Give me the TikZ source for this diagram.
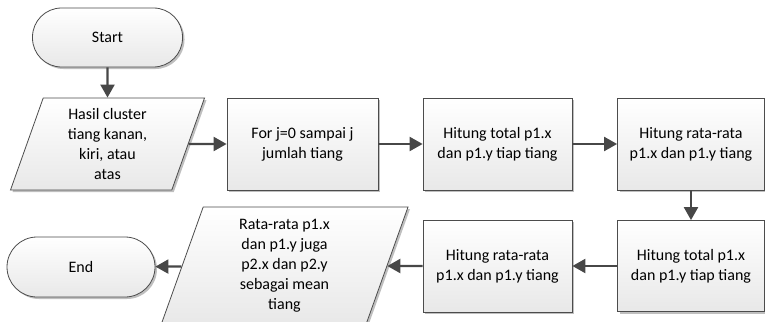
\documentclass[tikz,border=0pt]{standalone}
\usepackage{fontspec}
\setmainfont{Carlito}
\usetikzlibrary{arrows.meta,shapes.geometric,shadows}
\begin{document}
\begin{tikzpicture}[x=1pt,y=-1pt,
 every node/.style={font=\fontsize{16}{20}\selectfont, align=center, text=black},
 blk/.style={draw=black!70, line width=0.8pt, top color=white, bottom color=black!9,
   drop shadow={shadow xshift=2pt, shadow yshift=-2pt, fill=black!25, opacity=1}},
 procbox/.style={blk, rectangle, minimum width=149pt, minimum height=92pt, inner sep=2pt},
 term/.style={blk, rectangle, rounded corners=29pt, minimum width=150pt, minimum height=59pt},
 iobox/.style={blk, trapezium, trapezium left angle=66.5, trapezium right angle=113.5,
   trapezium stretches body=true, inner sep=2pt},
 arr/.style={draw=black!72, line width=2.2pt, -{Triangle[length=13pt,width=14pt]}}
]
\useasboundingbox (0,0) rectangle (765,321);
\node[term] (start) at (107.5,37.5) {Start};
\node[iobox, minimum width=194pt, minimum height=92pt] (in1) at (107.5,144) {Hasil cluster\\tiang kanan,\\kiri, atau\\atas};
\node[procbox, minimum width=151pt] (for) at (302.5,144) {For j=0 sampai j\\jumlah tiang};
\node[procbox] (ht1) at (497.5,144) {Hitung total p1.x\\dan p1.y tiap tiang};
\node[procbox, minimum width=147pt] (hr1) at (691,144) {Hitung rata-rata\\p1.x dan p1.y tiang};
\node[procbox, minimum width=147pt, minimum height=91pt] (ht2) at (691,266) {Hitung total p1.x\\dan p1.y tiap tiang};
\node[procbox] (hr2) at (497.5,266) {Hitung rata-rata\\p1.x dan p1.y tiang};
\node[iobox, minimum width=247pt, minimum height=118pt] (out) at (284.5,266) {Rata-rata p1.x\\dan p1.y juga\\p2.x dan p2.y\\sebagai mean\\tiang};
\node[term, minimum width=148pt, minimum height=60pt, rounded corners=30pt] (end) at (81,267) {End};
\draw[arr] (start) -- (in1);
\draw[arr] (in1) -- (for);
\draw[arr] (for) -- (ht1);
\draw[arr] (ht1) -- (hr1);
\draw[arr] (hr1) -- (ht2);
\draw[arr] (ht2) -- (hr2);
\draw[arr] (hr2) -- (out);
\draw[arr] (out) -- (end);
\end{tikzpicture}
\end{document}
